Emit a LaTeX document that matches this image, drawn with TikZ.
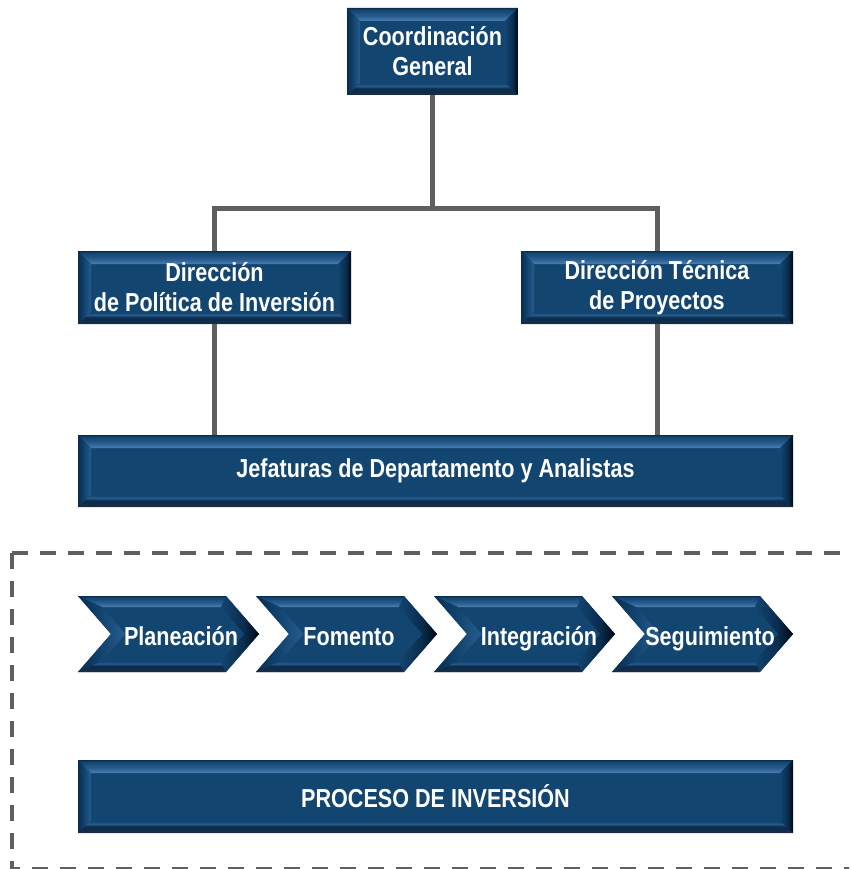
\documentclass[tikz,border=0pt]{standalone}
\usepackage{fontspec}
\newfontfamily\cstfont{Liberation Sans}[FakeStretch=0.83]
\definecolor{main}{RGB}{18,69,112}
\definecolor{mainlight}{RGB}{76,128,180}
\definecolor{mainmid}{RGB}{40,92,142}
\definecolor{maindark}{RGB}{10,44,78}
\definecolor{mainshadow}{RGB}{24,44,68}
\definecolor{mainedge}{RGB}{58,74,92}
\definecolor{mainblack}{RGB}{0,8,18}
\definecolor{linegray}{RGB}{95,95,95}
\usetikzlibrary{calc}
% bevel shadings
\pgfdeclareverticalshading{csttop}{100bp}{color(0bp)=(mainlight); color(25bp)=(mainlight); color(45bp)=(mainmid); color(68bp)=(main); color(75bp)=(maindark); color(100bp)=(maindark)}
\pgfdeclareverticalshading{cstbottom}{100bp}{color(0bp)=(mainedge); color(25bp)=(mainedge); color(29bp)=(mainshadow); color(52bp)=(maindark); color(63bp)=(mainmid); color(72bp)=(main); color(100bp)=(main)}
\pgfdeclarehorizontalshading{cstleft}{100bp}{color(0bp)=(maindark); color(25bp)=(maindark); color(50bp)=(main); color(75bp)=(mainmid); color(100bp)=(mainmid)}
\pgfdeclarehorizontalshading{cstright}{100bp}{color(0bp)=(main); color(25bp)=(main); color(55bp)=(maindark); color(75bp)=(mainblack); color(100bp)=(mainblack)}
\tikzset{
  % lines
	cstline/.style    ={line width=5pt, draw=linegray},
	cstdash/.style    ={line width=4pt, draw=linegray, dash pattern=on 16pt off 12pt},
  % text
	csttext/.style    ={text=white, inner sep=0pt, align=center, font=\cstfont\bfseries\fontsize{26}{30}\selectfont},
	cstlabel/.style   ={csttext, text height=18.6pt, text depth=0pt},
  % node
	cstbox/.style     ={csttext, rectangle, fill=main,
		path picture={
			\coordinate (ba) at (path picture bounding box.north west);
			\coordinate (bb) at (path picture bounding box.north east);
			\coordinate (bc) at (path picture bounding box.south east);
			\coordinate (bd) at (path picture bounding box.south west);
			\coordinate (ia) at ($(ba)+(13pt,-13pt)$);
			\coordinate (ib) at ($(bb)+(-13pt,-13pt)$);
			\coordinate (ic) at ($(bc)+(-13pt,12pt)$);
			\coordinate (id) at ($(bd)+(13pt,12pt)$);
			\shade[shading=csttop] (ba) -- (bb) -- (ib) -- (ia) -- cycle;
			\shade[shading=cstbottom] (bd) -- (bc) -- (ic) -- (id) -- cycle;
			\shade[shading=cstleft] (ba) -- (ia) -- (id) -- (bd) -- cycle;
			\shade[shading=cstright] (bb) -- (ib) -- (ic) -- (bc) -- cycle;
		}}
}

\begin{document}
\begin{tikzpicture}[x=1pt,y=-1pt]
	\useasboundingbox (0,0) rectangle (849,869);
	\clip (0,0) rectangle (849,869);
	% boxes
	\node[cstbox, minimum width=171pt, minimum height=87pt] (coord) at (432.5,51.5) {Coordinación\\General};
	\node[cstbox, minimum width=273pt, minimum height=73pt] (dpi) at (214.5,287.5) {Dirección\\de Política de Inversión};
	\node[cstbox, minimum width=272pt, minimum height=73pt] (dtp) at (657,287.5) {Dirección Técnica\\de Proyectos};
	\node[cstbox, minimum width=715pt, minimum height=72pt] (jef) at (435.5,471) {Jefaturas de Departamento y Analistas};
	\node[cstbox, minimum width=715pt, minimum height=73pt] (proc) at (435.5,796.5) {PROCESO DE INVERSIÓN};
	% connectors
	\draw[cstline] (coord.south) -- ++(0,113.5) -| (dpi.north);
	\draw[cstline] (coord.south) -- ++(0,113.5) -| (dtp.north);
	\draw[cstline] (dpi.south) -- (dpi.south |- jef.north);
	\draw[cstline] (dtp.south) -- (dtp.south |- jef.north);
	% process frame
	\draw[cstdash] (12,553) -- (900,553);
	\draw[cstdash] (12,553) -- (12,869) -- (900,869);
	% chevrons
	\foreach \i/\nm/\txt/\tx in {0/plan/Planeación/181,1/fome/Fomento/171,2/integ/Integración/183,3/segui/Seguimiento/176}{
		\begin{scope}[shift={(\i*178,0)}]
			\fill[main] (78,596) -- (226,596) -- (259,634) -- (226,672) -- (78,672) -- (111,634) -- cycle;
			\shade[shading=csttop] (78,596) -- (226,596) -- (221,607) -- (102,607) -- cycle;
			\shade[shading=cstbottom] (78,672) -- (226,672) -- (221,661) -- (102,661) -- cycle;
			\shade[shading=cstright] (226,596) -- (259,634) -- (244.4,634) -- (221,607) -- cycle;
			\shade[shading=cstright] (226,672) -- (259,634) -- (244.4,634) -- (221,661) -- cycle;
			\shade[shading=cstleft] (78,596) -- (111,634) -- (125.6,634) -- (102,607) -- cycle;
			\shade[shading=cstleft] (78,672) -- (111,634) -- (125.6,634) -- (102,661) -- cycle;
			\node[cstlabel] (\nm) at (\tx,636) {\txt};
		\end{scope}
	}
\end{tikzpicture}
\end{document}
